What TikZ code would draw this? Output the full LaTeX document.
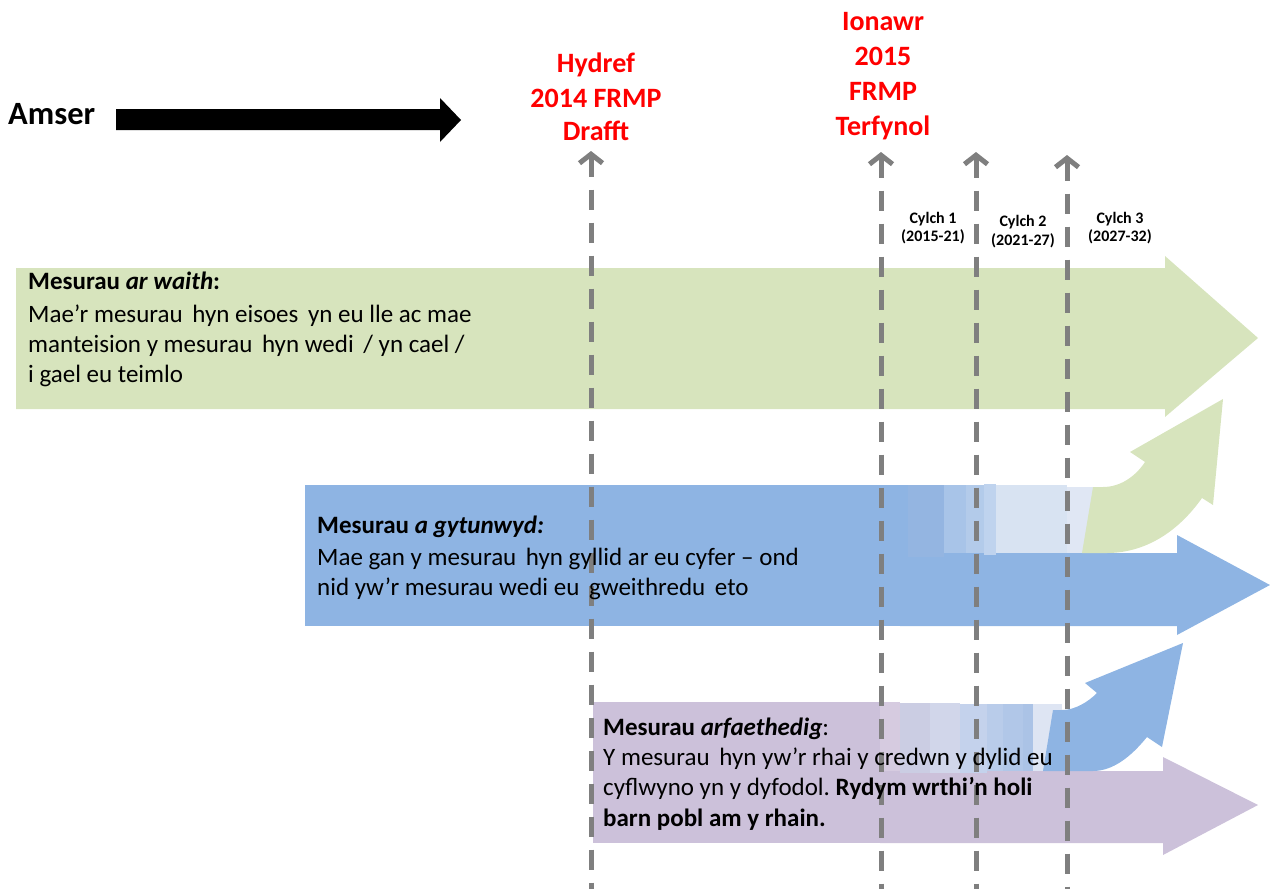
\documentclass[tikz,border=0pt]{standalone}
\usepackage{fontspec}
\setmainfont{Carlito}
\usetikzlibrary{arrows.meta}
\definecolor{mgreen}{HTML}{D7E4BD}
\definecolor{mblue}{HTML}{8EB4E3}
\definecolor{mpurple}{HTML}{CCC1DA}
\definecolor{mgray}{HTML}{7F7F7F}
\definecolor{mred}{HTML}{FF0000}
\newcommand{\xs}{\hspace{4pt}}
\begin{document}
\begin{tikzpicture}[x=1pt,y=-1pt,
  body/.style={anchor=base west, inner sep=0pt, font=\fontsize{25}{30}\selectfont},
  redlab/.style={anchor=base, inner sep=0pt, text=mred, font=\fontsize{28}{35}\selectfont\bfseries},
  cyc/.style={anchor=base, inner sep=0pt, font=\fontsize{16}{19}\selectfont\bfseries},
  guide/.style={draw=mgray, line width=5pt, dash pattern=on 20pt off 13pt, {Straight Barb[length=9pt,width=23pt]}-}
]
\path[use as bounding box] (0,0) rectangle (1270,889);

% Time arrow
\node[anchor=base west, inner sep=0pt, font=\fontsize{32.5}{38}\selectfont\bfseries] (amser) at (8,124) {Amser};
\fill[black] (116,109) -- (440,109) -- (440,98) -- (461,120) -- (440,142) -- (440,130) -- (116,130) -- cycle;

% Green arrow
\fill[mgreen] (16,268) -- (1165,268) -- (1165,256) -- (1258,338) -- (1165,417) -- (1165,409) -- (16,409) -- cycle;

% Blue box and arrow
\fill[mblue] (305,485) rectangle (908,626);
\fill[mblue] (900,553) -- (1177,553) -- (1177,535) -- (1270,585) -- (1177,635) -- (1177,626) -- (900,626) -- cycle;
% blue fades
\fill[fill={rgb,255:red,148;green,181;blue,225}] (908,485) rectangle (944,557);
\fill[fill={rgb,255:red,168;green,196;blue,232}] (944,485) rectangle (966,553);
\fill[fill={rgb,255:red,179;green,203;blue,234}] (966,485) rectangle (984,553);
\fill[fill={rgb,255:red,191;green,211;blue,238}] (984,484) rectangle (996,555);
\fill[fill={rgb,255:red,216;green,227;blue,242}] (996,485) rectangle (1067,553);
\fill[fill={rgb,255:red,224;green,231;blue,244}] (1067,487) rectangle (1095,553);
% green curved arrow
\fill[mgreen] (1082,553) -- (1093,487) -- (1103,487) .. controls (1120,487) and (1135,477) .. (1145,462)
  -- (1130,452) -- (1223,399) -- (1213,505) -- (1202,498)
  .. controls (1178,532) and (1145,553) .. (1107,553) -- cycle;

% Purple box and arrow
\fill[mpurple] (593,702) rectangle (898,843);
\fill[mpurple] (880,771) -- (1163,771) -- (1163,757) -- (1258,805) -- (1163,855) -- (1163,843) -- (880,843) -- cycle;
% purple fades
\fill[fill={rgb,255:red,214;green,203;blue,224}] (880,702) rectangle (900,771);
\fill[fill={rgb,255:red,203;green,205;blue,227}] (900,703) rectangle (930,773);
\fill[fill={rgb,255:red,209;green,214;blue,234}] (930,703) rectangle (960,773);
\fill[fill={rgb,255:red,196;green,210;blue,236}] (960,704) rectangle (987,773);
\fill[fill={rgb,255:red,185;green,204;blue,234}] (987,704) rectangle (1003,771);
\fill[fill={rgb,255:red,177;green,199;blue,232}] (1003,704) rectangle (1023,771);
\fill[fill={rgb,255:red,171;green,195;blue,230}] (1023,704) rectangle (1033,771);
\fill[fill={rgb,255:red,222;green,229;blue,243}] (1033,704) rectangle (1062,771);
% blue curved arrow
\fill[mblue] (1043,771) -- (1053,710) -- (1062,710) .. controls (1075,710) and (1088,702) .. (1097,693)
  -- (1085,683) -- (1183,643) -- (1162,747) -- (1147,737)
  .. controls (1130,758) and (1112,771) .. (1093,771) -- cycle;

% Guide lines
\coordinate (t1) at (591,151); \coordinate (b1) at (591,889);
\coordinate (t2) at (881,152); \coordinate (b2) at (881,889);
\coordinate (t3) at (976,152); \coordinate (b3) at (976,889);
\coordinate (t4) at (1067,155); \coordinate (b4) at (1067,889);
\draw[guide] (t1) -- (b1);
\draw[guide] (t2) -- (b2);
\draw[guide] (t3) -- (b3);
\draw[guide] (t4) -- (b4);

% Red labels
\node[redlab] (h1) at (596,72) {Hydref};
\node[redlab] (h2) at (596,107) {2014 FRMP};
\node[redlab] (h3) at (596,140) {Drafft};
\node[redlab] (i1) at (883,30) {Ionawr};
\node[redlab] (i2) at (883,65) {2015};
\node[redlab] (i3) at (883,100) {FRMP};
\node[redlab] (i4) at (883,135) {Terfynol};

% Cycles
\node[cyc] (c1a) at (933,223) {Cylch 1};
\node[cyc] (c1b) at (933,241) {(2015-21)};
\node[cyc] (c2a) at (1023,226) {Cylch 2};
\node[cyc] (c2b) at (1023,245) {(2021-27)};
\node[cyc] (c3a) at (1120,223) {Cylch 3};
\node[cyc] (c3b) at (1120,241) {(2027-32)};

% Green text
\node[body] (g1) at (28,289) {\textbf{Mesurau \textit{ar waith}:}};
\node[body] (g2) at (28,322) {Mae’r mesurau\xs{} hyn eisoes\xs{} yn eu lle ac mae};
\node[body] (g3) at (28,352) {manteision y mesurau\xs{} hyn wedi\xs{} / yn cael /};
\node[body] (g4) at (28,382) {i gael eu teimlo};

% Blue text
\node[body] (u1) at (317,533) {\textbf{Mesurau \textit{a gytunwyd:}}};
\node[body] (u2) at (317,565) {Mae gan y mesurau\xs{} hyn gyllid ar eu cyfer – ond};
\node[body] (u3) at (317,595) {nid yw’r mesurau wedi eu\xs{} gweithredu\xs{} eto};

% Purple text
\node[body] (p1) at (603,735) {\textbf{Mesurau \textit{arfaethedig}}:};
\node[body] (p2) at (603,765) {Y mesurau\xs{} hyn yw’r rhai y credwn y dylid eu};
\node[body] (p3) at (603,795) {cyflwyno yn y dyfodol.\ \textbf{Rydym wrthi’n holi}};
\node[body] (p4) at (603,826) {\textbf{barn pobl am y rhain.}};
\end{tikzpicture}
\end{document}
